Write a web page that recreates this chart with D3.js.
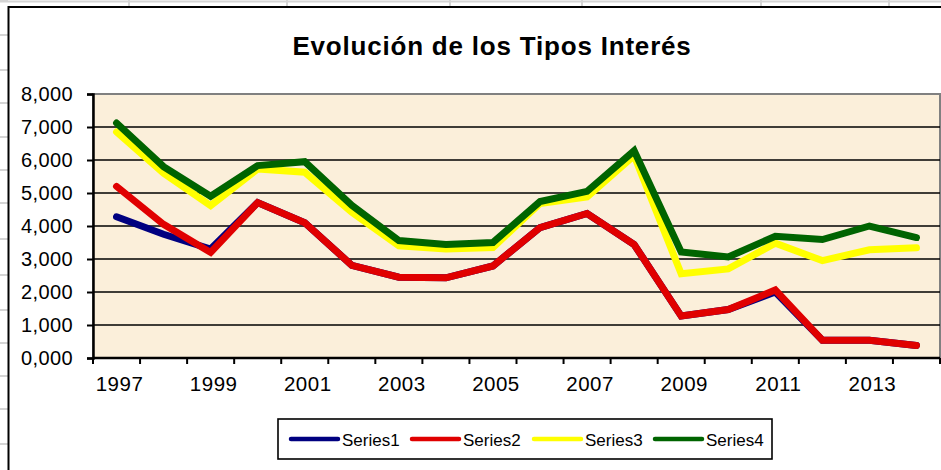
<!DOCTYPE html>
<html>
<head>
<meta charset="utf-8">
<script src="https://cdn.jsdelivr.net/npm/d3@7"></script>
<style>
  body { margin: 0; background: #fff; }
  svg { display: block; font-family: Arial, "Liberation Sans", sans-serif; }
</style>
</head>
<body>
<svg width="941" height="470"></svg>
<script>
// chart data
const years = d3.range(1997, 2015);
const series1 = [4.28, 3.75, 3.3, 4.71, 4.1, 2.81, 2.45, 2.43, 2.79, 3.95, 4.38, 3.44, 1.27, 1.47, 2.0, 0.54, 0.54, 0.38];
const series2 = [5.2, 4.05, 3.2, 4.71, 4.1, 2.81, 2.45, 2.43, 2.79, 3.95, 4.38, 3.44, 1.27, 1.47, 2.06, 0.54, 0.54, 0.38];
const series3 = [6.85, 5.6, 4.62, 5.73, 5.63, 4.42, 3.4, 3.3, 3.35, 4.68, 4.88, 6.13, 2.55, 2.7, 3.48, 2.95, 3.28, 3.34];
const series4 = [7.12, 5.8, 4.9, 5.83, 5.95, 4.63, 3.56, 3.44, 3.5, 4.74, 5.05, 6.28, 3.21, 3.06, 3.69, 3.59, 4.0, 3.65];
const seriesNames = ["Series1", "Series2", "Series3", "Series4"];
const yTicks = [0, 1, 2, 3, 4, 5, 6, 7, 8];
const yTickLabels = ["0,000", "1,000", "2,000", "3,000", "4,000", "5,000", "6,000", "7,000", "8,000"];
const xLabelYears = [1997, 1999, 2001, 2003, 2005, 2007, 2009, 2011, 2013];

const colors = ["#000080", "#e00000", "#ffff00", "#006400"];
const title = "Evolución de los Tipos Interés";

const svg = d3.select("svg");

// spreadsheet grid behind the chart
const sheetRows = [1, 35, 70, 103, 137, 170, 203, 239, 275, 310, 343, 376, 409, 444];
const sheetCols = [129, 287, 450, 582, 761, 889];
svg.append("g").attr("stroke", "#d4d4d4").attr("stroke-width", 2)
  .selectAll("line").data(sheetRows).enter().append("line")
  .attr("x1", 0).attr("x2", 8).attr("y1", d => d).attr("y2", d => d);
svg.append("line").attr("x1", 0).attr("x2", 941).attr("y1", 1.5).attr("y2", 1.5)
  .attr("stroke", "#d4d4d4").attr("stroke-width", 2);
svg.append("g").attr("stroke", "#d4d4d4").attr("stroke-width", 2)
  .selectAll("line").data(sheetCols).enter().append("line")
  .attr("x1", d => d).attr("x2", d => d).attr("y1", 0).attr("y2", 6);

// chart area
svg.append("rect")
  .attr("x", 8.5).attr("y", 7).attr("width", 1000).attr("height", 1000)
  .attr("fill", "#fff").attr("stroke", "#000").attr("stroke-width", 2);

const plot = { left: 93, right: 940, top: 94, bottom: 358 };

const x = d3.scaleBand().domain(years).range([plot.left, plot.right]);
const y = d3.scaleLinear().domain([0, 8]).range([plot.bottom, plot.top]);

// plot background
svg.append("rect")
  .attr("x", plot.left).attr("y", plot.top)
  .attr("width", plot.right - plot.left).attr("height", plot.bottom - plot.top)
  .attr("fill", "#fbefda")
  .attr("stroke", "#808080").attr("stroke-width", 2);

// gridlines
svg.append("g")
  .selectAll("line").data(yTicks.filter(d => d > 0 && d < 8)).enter().append("line")
  .attr("x1", plot.left).attr("x2", plot.right)
  .attr("y1", d => y(d)).attr("y2", d => y(d))
  .attr("stroke", "#000").attr("stroke-width", 1.6);

// y axis
const yAxis = d3.axisLeft(y)
  .tickValues(yTicks)
  .tickFormat((d, i) => yTickLabels[i])
  .tickSize(6).tickPadding(14);
svg.append("g")
  .attr("transform", `translate(${plot.left},0)`)
  .call(yAxis)
  .call(g => g.select(".domain").attr("stroke-width", 2.5))
  .call(g => g.selectAll(".tick line").attr("stroke-width", 2))
  .call(g => g.selectAll("text").attr("font-size", 20).attr("fill", "#000")
    .attr("letter-spacing", 0.4)
    .attr("font-family", "Arial, 'Liberation Sans', sans-serif"));

// x axis: ticks between categories, labels every other year
const xg = svg.append("g");
xg.append("line")
  .attr("x1", plot.left).attr("x2", plot.right)
  .attr("y1", plot.bottom).attr("y2", plot.bottom)
  .attr("stroke", "#000").attr("stroke-width", 2.5);
xg.selectAll("line.tk").data(years.concat([null])).enter().append("line")
  .attr("class", "tk")
  .attr("x1", d => d === null ? plot.right : x(d))
  .attr("x2", d => d === null ? plot.right : x(d))
  .attr("y1", plot.bottom).attr("y2", plot.bottom + 6)
  .attr("stroke", "#000").attr("stroke-width", 2);
xg.selectAll("text").data(xLabelYears).enter().append("text")
  .attr("x", d => x(d) + x.bandwidth() / 2 + 3)
  .attr("y", 391)
  .attr("text-anchor", "middle")
  .attr("font-size", 20.5)
  .attr("letter-spacing", 0.5)
  .text(d => d);

// series lines
const allSeries = [series1, series2, series3, series4];
const line = d3.line()
  .x((d, i) => x(years[i]) + x.bandwidth() / 2)
  .y(d => y(d));

svg.append("g")
  .selectAll("path").data(allSeries).enter().append("path")
  .attr("d", d => line(d))
  .attr("fill", "none")
  .attr("stroke", (d, i) => colors[i])
  .attr("stroke-width", 7)
  .attr("stroke-linejoin", "miter")
  .attr("stroke-linecap", "round");

// title
svg.append("text")
  .attr("x", 492).attr("y", 55)
  .attr("text-anchor", "middle")
  .attr("font-size", 26).attr("font-weight", "bold")
  .attr("letter-spacing", 0.8)
  .text(title);

// legend
const legend = svg.append("g");
legend.append("rect")
  .attr("x", 278).attr("y", 419).attr("width", 494).attr("height", 40)
  .attr("fill", "#fff").attr("stroke", "#000").attr("stroke-width", 1.6);
const legendX = [291, 412, 534, 655];
const items = legend.selectAll("g.item").data(seriesNames).enter().append("g")
  .attr("class", "item")
  .attr("transform", (d, i) => `translate(${legendX[i]},439)`);
items.append("line")
  .attr("x1", 0).attr("x2", 47).attr("y1", 0).attr("y2", 0)
  .attr("stroke", (d, i) => colors[i]).attr("stroke-width", 4.5)
  .attr("stroke-linecap", "round");
items.append("text")
  .attr("x", 51).attr("y", 7)
  .attr("font-size", 17)
  .text(d => d);
</script>
</body>
</html>
